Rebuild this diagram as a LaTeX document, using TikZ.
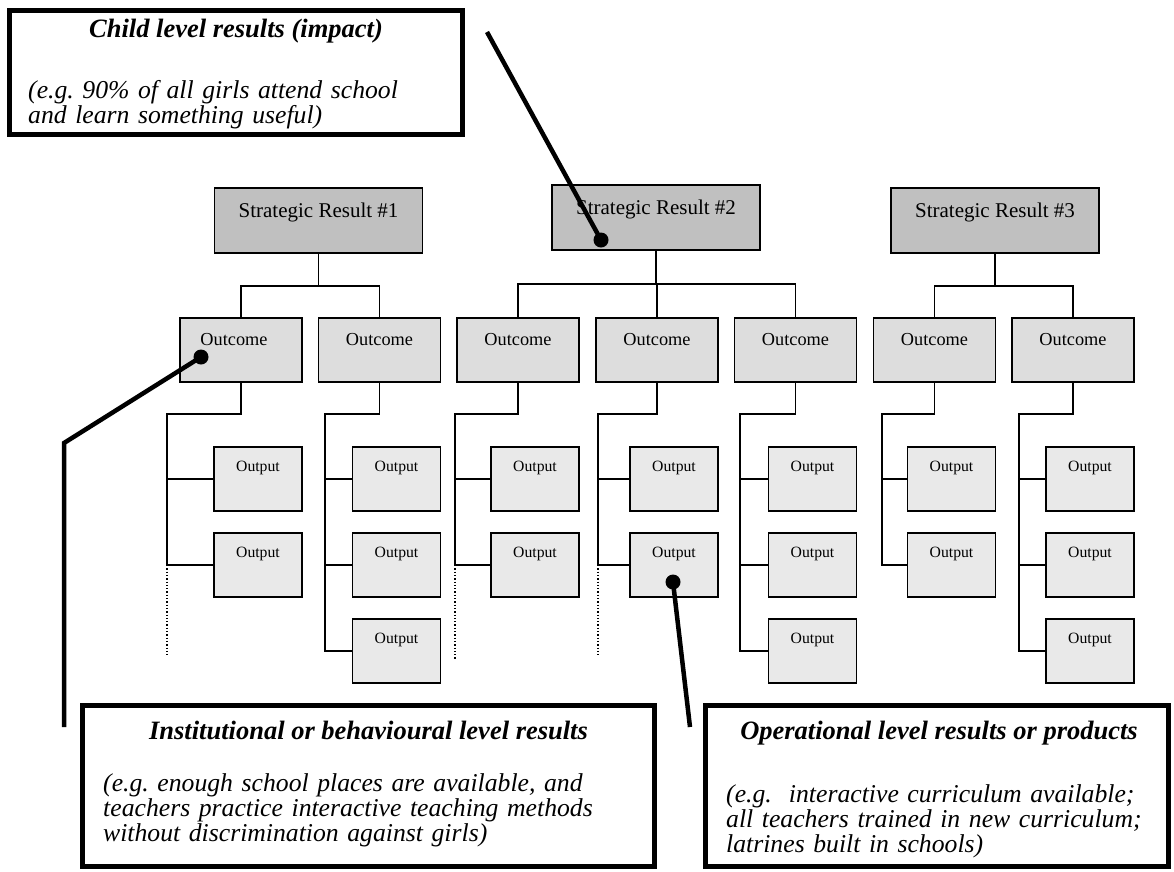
\documentclass[tikz,border=0pt]{standalone}
\usepackage{fontspec}
\setmainfont{Liberation Serif}
\definecolor{srgray}{RGB}{192,192,192}
\definecolor{ocgray}{RGB}{221,221,221}
\definecolor{opgray}{RGB}{233,233,233}
\begin{document}
\frenchspacing
\begin{tikzpicture}[x=1pt,y=-1pt,
  box/.style={draw=black, line width=1.8pt, inner sep=0pt},
  srbox/.style={box, fill=srgray, minimum width=208pt, minimum height=65pt},
  ocbox/.style={box, fill=ocgray, minimum width=122pt, minimum height=64pt},
  opbox/.style={box, fill=opgray, minimum width=88pt, minimum height=64pt},
  srtext/.style={font=\fontsize{21}{24}\selectfont, anchor=base, inner sep=0pt, yshift=-30pt},
  octext/.style={font=\fontsize{18.3}{22}\selectfont, anchor=base, inner sep=0pt, yshift=-28.5pt},
  optext/.style={font=\fontsize{15.7}{19}\selectfont, anchor=base, inner sep=0pt, yshift=-25.5pt},
  conn/.style={draw=black, line width=1.3pt},
  dotline/.style={draw=black, line width=1.3pt, dotted},
  callbox/.style={draw=black, line width=5pt, fill=white, inner sep=0pt},
  callline/.style={draw=black, line width=4.5pt},
  calltitle/.style={font=\fontsize{26.5}{25}\selectfont\bfseries\itshape, anchor=base, inner sep=0pt},
  callbody/.style={font=\fontsize{25.7}{25}\selectfont\itshape, anchor=base west, inner sep=0pt,
                   text width=560pt, align=left},
]
\useasboundingbox (0,0) rectangle (1174,871);

% strategic results
\node[srbox, label={[srtext]north:Strategic Result \#1}] (sr1) at (318.5,220.5) {};
\node[srbox, label={[srtext]north:Strategic Result \#2}] (sr2) at (656,217.5) {};
\node[srbox, label={[srtext]north:Strategic Result \#3}] (sr3) at (995,220.5) {};

% outcomes
\node[ocbox, label={[octext, xshift=-7pt]north:Outcome}] (o1) at (241,350) {};
\node[ocbox, label={[octext]north:Outcome}] (o2) at (379.5,350) {};
\node[ocbox, label={[octext]north:Outcome}] (o3) at (518,350) {};
\node[ocbox, label={[octext]north:Outcome}] (o4) at (657,350) {};
\node[ocbox, label={[octext]north:Outcome}] (o5) at (795.5,350) {};
\node[ocbox, label={[octext]north:Outcome}] (o6) at (934.5,350) {};
\node[ocbox, label={[octext]north:Outcome}] (o7) at (1073,350) {};

% outputs
\foreach \n/\x/\k in {1/258/2, 2/396.5/3, 3/535/2, 4/674/2, 5/812.5/3, 6/951.5/2, 7/1090/3}{
  \node[opbox, label={[optext]north:Output}] (p\n1) at (\x,479) {};
  \node[opbox, label={[optext]north:Output}] (p\n2) at (\x,565) {};
  \ifnum\k=3
    \node[opbox, label={[optext]north:Output}] (p\n3) at (\x,651) {};
  \fi
}

% strategic result -> outcomes
\coordinate (b1) at (318.5,286);
\coordinate (b2) at (656,284);
\coordinate (b3) at (995,286);
\draw[conn] (sr1.south) -- (b1);
\draw[conn] (o1.north) |- (b1) -| (o2.north);
\draw[conn] (sr2.south) -- (b2);
\draw[conn] (o3.north) |- (b2) -| (o5.north);
\draw[conn] (o4.north) -- (o4.north |- b2);
\draw[conn] (sr3.south) -- (b3);
\draw[conn] (o6.north) |- (b3) -| (o7.north);

% outcome -> outputs
\coordinate (s1) at (167,414);
\coordinate (s2) at (325,414);
\coordinate (s3) at (455,414);
\coordinate (s4) at (598,414);
\coordinate (s5) at (740,414);
\coordinate (s6) at (882,414);
\coordinate (s7) at (1019,414);
\foreach \n in {1,3,4,6}{
  \draw[conn] (o\n.south) |- (s\n) |- (p\n2.west);
  \draw[conn] (s\n |- p\n1.west) -- (p\n1.west);
}
\foreach \n in {2,5,7}{
  \draw[conn] (o\n.south) |- (s\n) |- (p\n3.west);
  \draw[conn] (s\n |- p\n1.west) -- (p\n1.west);
  \draw[conn] (s\n |- p\n2.west) -- (p\n2.west);
}
\draw[dotline] (s1 |- p12.west) -- ++(0,90);
\draw[dotline] (s3 |- p32.west) -- ++(0,95);
\draw[dotline] (s4 |- p42.west) -- ++(0,92);

% callout boxes
\node[callbox, minimum width=453pt, minimum height=124pt] (cb1) at (236,72.5) {};
\node[calltitle] (ct1) at (236,37) {Child level results (impact)};
\node[callbody] (cx1) at (28,98) {(e.g. 90\% of all girls attend school\\and learn something useful)};

\node[callbox, minimum width=572pt, minimum height=161pt] (cb2) at (368.5,786) {};
\node[calltitle] (ct2) at (368.5,739) {Institutional or behavioural level results};
\node[callbody] (cx2) at (103,791) {(e.g. enough school places are available, and\\teachers practice interactive teaching methods\\without discrimination against girls)};

\node[callbox, minimum width=463pt, minimum height=161pt] (cb3) at (937,786) {};
\node[calltitle] (ct3) at (939,739) {Operational level results or products};
\node[callbody] (cx3) at (726,802) {(e.g.\ \ interactive curriculum available;\\all teachers trained in new curriculum;\\latrines built in schools)};

% pointer lines
\coordinate (t1) at (487,32);
\coordinate (d1) at (601,240);
\draw[callline] (t1) -- (d1);
\fill (d1) circle[radius=7.5pt];

\coordinate (d2) at (201,357);
\coordinate (k2) at (64,443);
\coordinate (e2) at (64,727);
\draw[callline, line join=miter] (d2) -- (k2) -- (e2);
\fill (d2) circle[radius=7.5pt];

\coordinate (d3) at (673,582);
\coordinate (e3) at (690,727);
\draw[callline] (d3) -- (e3);
\fill (d3) circle[radius=7.5pt];
\end{tikzpicture}
\end{document}
